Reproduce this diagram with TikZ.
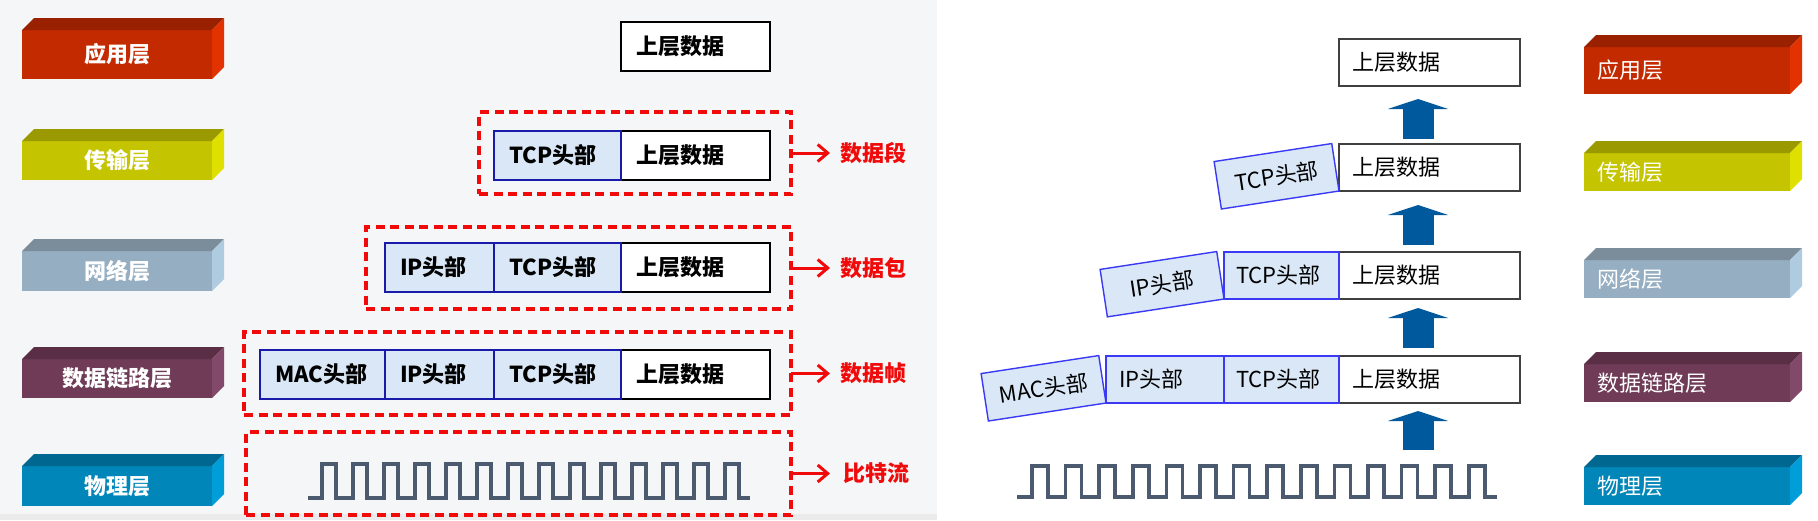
\documentclass[tikz,border=0pt]{standalone}
\usepackage{fontspec}
\setmainfont{Noto Sans CJK SC}
\usepackage{tikz}
\usetikzlibrary{arrows.meta, positioning, calc}

\definecolor{appfront}{HTML}{C42A00}
\definecolor{apptop}{HTML}{9A2100}
\definecolor{appside}{HTML}{E23200}
\definecolor{transfront}{HTML}{C4C400}
\definecolor{transtop}{HTML}{9A9A00}
\definecolor{transside}{HTML}{E0E000}
\definecolor{netfront}{HTML}{96AEC1}
\definecolor{nettop}{HTML}{7B8D9A}
\definecolor{netside}{HTML}{AECBE0}
\definecolor{linkfront}{HTML}{6F3B57}
\definecolor{linktop}{HTML}{5A2E45}
\definecolor{linkside}{HTML}{83496A}
\definecolor{phyfront}{HTML}{0086B8}
\definecolor{phytop}{HTML}{006890}
\definecolor{physide}{HTML}{009ED8}
\definecolor{headfill}{HTML}{D9E7F6}
\definecolor{headblueleft}{HTML}{1A1AAA}
\definecolor{headblueright}{HTML}{3A3AF5}
\definecolor{framered}{HTML}{F00A0A}
\definecolor{uparrowblue}{HTML}{00599C}
\definecolor{wavegray}{HTML}{4B5A6E}
\definecolor{panelbg}{HTML}{F5F6F7}

\tikzset{
  layerleft/.style={
    fill=#1, text=white, minimum width=190pt, minimum height=39pt,
    inner sep=0pt, outer sep=0pt,
    font=\fontsize{22pt}{26pt}\selectfont\bfseries
  },
  layerright/.style={
    fill=#1, text=white, text width=180pt, align=left, inner xsep=13pt,
    inner ysep=0pt, outer sep=0pt, minimum height=38pt,
    font=\fontsize{22pt}{26pt}\selectfont
  },
  cellleft/.style={
    draw=black, line width=1.4pt, fill=white, text width=#1, align=left,
    inner xsep=15pt, inner ysep=0pt, outer sep=0pt, minimum height=49pt,
    font=\fontsize{22pt}{26pt}\selectfont\bfseries
  },
  headleft/.style={cellleft=#1, draw=headblueleft, fill=headfill},
  cellright/.style={
    draw=black!75, line width=1.4pt, fill=white, text width=#1, align=left,
    inner xsep=13pt, inner ysep=0pt, outer sep=0pt, minimum height=47pt,
    font=\fontsize{22pt}{26pt}\selectfont
  },
  headright/.style={cellright=#1, draw=headblueright, fill=headfill},
  tiltedhead/.style={
    draw=headblueright, line width=1.4pt, fill=headfill, align=center,
    minimum width=119pt, minimum height=48pt, inner sep=0pt, outer sep=0pt,
    rotate=8.7, anchor=south east, font=\fontsize{22pt}{26pt}\selectfont
  },
  dashframe/.style={
    draw=framered, line width=3.2pt, dash pattern=on 9pt off 5.5pt,
    inner sep=0pt, outer sep=0pt
  },
  framearrow/.style={
    -{Straight Barb[length=10pt, width=17pt]}, line width=3pt, draw=framered
  },
  framelabel/.style={
    text=framered, inner sep=0pt,
    font=\fontsize{22pt}{26pt}\selectfont\bfseries
  },
  uparrow/.style={
    -{Triangle[length=10pt, width=60pt]}, line width=31pt, draw=uparrowblue
  },
  signalwave/.style={draw=wavegray, line width=3.5pt, line join=miter},
}

\begin{document}
\begin{tikzpicture}[x=1pt, y=-1pt]
  \useasboundingbox (0,0) rectangle (1818,520);
  \fill[white] (0,0) rectangle (1818,520);
  \fill[panelbg] (0,0) rectangle (937,514);
  \fill[black!8] (0,514) rectangle (937,520);

  % Left layers
  \node[layerleft=appfront, minimum height=49pt] (lapp) at (117,54.5) {应用层};
  \node[layerleft=transfront] (ltrans) at (117,160.5) {传输层};
  \node[layerleft=netfront, minimum height=40pt] (lnet) at (117,271) {网络层};
  \node[layerleft=linkfront] (llink) at (117,378.5) {数据链路层};
  \node[layerleft=phyfront, minimum height=40pt] (lphy) at (117,486) {物理层};

  % Right layers
  \node[layerright=appfront, minimum height=47pt] (rapp) at (1687,70.5) {应用层};
  \node[layerright=transfront] (rtrans) at (1687,172) {传输层};
  \node[layerright=netfront] (rnet) at (1687,279) {网络层};
  \node[layerright=linkfront] (rlink) at (1687,383) {数据链路层};
  \node[layerright=phyfront] (rphy) at (1687,486) {物理层};

  % 3D faces of the layers
  \foreach \lay/\col in {lapp/app, ltrans/trans, lnet/net, llink/link, lphy/phy,
                         rapp/app, rtrans/trans, rnet/net, rlink/link, rphy/phy} {
    \fill[fill=\col top] (\lay.north west) -- ++(12,-12)
      -- ([shift={(12,-12)}]\lay.north east) -- (\lay.north east) -- cycle;
    \fill[fill=\col side] (\lay.north east) -- ++(12,-12)
      -- ([shift={(12,-12)}]\lay.south east) -- (\lay.south east) -- cycle;
  }

  % Left: encapsulation
  \node[cellleft=119pt] (ldata0) at (695.5,46.5) {上层数据};

  \node[cellleft=119pt] (ldata1) at (695.5,155.5) {上层数据};
  \node[headleft=97pt, left=0pt of ldata1] (ltcp1) {TCP头部};

  \node[cellleft=119pt] (ldata2) at (695.5,267.5) {上层数据};
  \node[headleft=97pt, left=0pt of ldata2] (ltcp2) {TCP头部};
  \node[headleft=79pt, left=0pt of ltcp2] (lip2) {IP头部};

  \node[cellleft=119pt] (ldata3) at (695.5,374.5) {上层数据};
  \node[headleft=97pt, left=0pt of ldata3] (ltcp3) {TCP头部};
  \node[headleft=79pt, left=0pt of ltcp3] (lip3) {IP头部};
  \node[headleft=95pt, left=0pt of lip3] (lmac3) {MAC头部};

  % Left signal
  \draw[signalwave] (308,498) \foreach \k in {0,...,13} {
      -- ({322+31*\k},498) -- ++(0,-34) -- ++(14,0) -- ++(0,34) } -- (750,498);

  % Dashed frames and their names
  \node[dashframe, minimum width=312pt, minimum height=82pt] (segframe) at (635,153) {};
  \node[dashframe, minimum width=425pt, minimum height=82pt] (packframe) at (578.5,268) {};
  \node[dashframe, minimum width=547pt, minimum height=83pt] (frmframe) at (517.5,373.5) {};
  \node[dashframe, minimum width=545pt, minimum height=83pt] (bitframe) at (518.5,473.5) {};

  \node[framelabel, right=49pt of segframe] (seglabel) {数据段};
  \node[framelabel, right=49pt of packframe] (packlabel) {数据包};
  \node[framelabel, right=49pt of frmframe] (frmlabel) {数据帧};
  \node[framelabel, right=52pt of bitframe] (bitlabel) {比特流};

  \draw[framearrow, shorten >=10pt] (segframe.east) -- (seglabel.west);
  \draw[framearrow, shorten >=10pt] (packframe.east) -- (packlabel.west);
  \draw[framearrow, shorten >=10pt] (frmframe.east) -- (frmlabel.west);
  \draw[framearrow, shorten >=13pt] (bitframe.east) -- (bitlabel.west);

  % Right: decapsulation
  \node[cellright=155pt] (rdata0) at (1429.5,62.5) {上层数据};

  \node[cellright=155pt] (rdata1) at (1429.5,167.5) {上层数据};
  \node[tiltedhead] (rtcp1) at (rdata1.south west) {TCP头部};

  \node[cellright=155pt] (rdata2) at (1429.5,275.5) {上层数据};
  \node[headright=91pt, inner xsep=12pt, left=0pt of rdata2] (rtcp2) {TCP头部};
  \node[tiltedhead, minimum width=118pt] (rip2) at (rtcp2.south west) {IP头部};

  \node[cellright=155pt] (rdata3) at (1429.5,379.5) {上层数据};
  \node[headright=91pt, inner xsep=12pt, left=0pt of rdata3] (rtcp3) {TCP头部};
  \node[headright=92pt, left=0pt of rtcp3] (rip3) {IP头部};
  \node[tiltedhead] (rmac3) at (rip3.south west) {MAC头部};

  % Right signal
  \draw[signalwave] (1017,497) \foreach \k in {0,...,13} {
      -- ({1032+33.6*\k},497) -- ++(0,-31) -- ++(16,0) -- ++(0,31) } -- (1497,497);
  \coordinate (rwavetop) at (1418,466);

  % Upward arrows
  \draw[uparrow, shorten <=5pt, shorten >=13pt]
    ([xshift=-11.5pt]rdata1.north) -- ([xshift=-11.5pt]rdata0.south);
  \draw[uparrow, shorten <=7pt, shorten >=14pt]
    ([xshift=-11.5pt]rdata2.north) -- ([xshift=-11.5pt]rdata1.south);
  \draw[uparrow, shorten <=8pt, shorten >=9pt]
    ([xshift=-11.5pt]rdata3.north) -- ([xshift=-11.5pt]rdata2.south);
  \draw[uparrow, shorten <=16pt, shorten >=8pt]
    (rwavetop) -- ([xshift=-11.5pt]rdata3.south);
\end{tikzpicture}
\end{document}
